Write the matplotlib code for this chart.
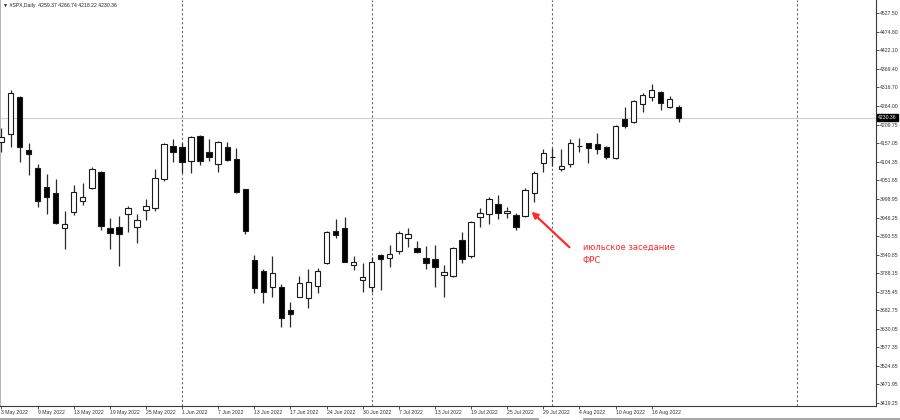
from datetime import datetime

import matplotlib

matplotlib.use("Agg")
import matplotlib.pyplot as plt
import matplotlib.transforms as mtransforms
from matplotlib.patches import Rectangle


# daily OHLC of the #SPX CFD
dates = [
    "2022-05-03", "2022-05-04", "2022-05-05", "2022-05-06", "2022-05-09",
    "2022-05-10", "2022-05-11", "2022-05-12", "2022-05-13", "2022-05-16",
    "2022-05-17", "2022-05-18", "2022-05-19", "2022-05-20", "2022-05-23",
    "2022-05-24", "2022-05-25", "2022-05-26", "2022-05-27", "2022-05-31",
    "2022-06-01", "2022-06-02", "2022-06-03", "2022-06-06", "2022-06-07",
    "2022-06-08", "2022-06-09", "2022-06-10", "2022-06-13", "2022-06-14",
    "2022-06-15", "2022-06-16", "2022-06-17", "2022-06-21", "2022-06-22",
    "2022-06-23", "2022-06-24", "2022-06-27", "2022-06-28", "2022-06-29",
    "2022-06-30", "2022-07-01", "2022-07-05", "2022-07-06", "2022-07-07",
    "2022-07-08", "2022-07-11", "2022-07-12", "2022-07-13", "2022-07-14",
    "2022-07-15", "2022-07-18", "2022-07-19", "2022-07-20", "2022-07-21",
    "2022-07-22", "2022-07-25", "2022-07-26", "2022-07-27", "2022-07-28",
    "2022-07-29", "2022-08-01", "2022-08-02", "2022-08-03", "2022-08-04",
    "2022-08-05", "2022-08-08", "2022-08-09", "2022-08-10", "2022-08-11",
    "2022-08-12", "2022-08-15", "2022-08-16", "2022-08-17", "2022-08-18",
    "2022-08-19",
]
opens = [
    4161.0, 4182.8, 4289.6, 4139.0, 4087.8, 4033.9, 4015.0, 3915.6, 3962.8, 3994.1,
    4029.3, 4076.5, 3915.6, 3920.2, 3956.3, 3920.2, 3967.6, 3972.5, 4055.7, 4149.5,
    4145.8, 4107.7, 4178.0, 4133.3, 4097.5, 4147.5, 4112.6, 4026.5, 3825.5, 3795.1,
    3749.6, 3749.6, 3683.4, 3719.5, 3716.7, 3751.6, 3816.1, 3908.8, 3917.3, 3810.5,
    3768.7, 3749.6, 3839.7, 3832.0, 3851.1, 3887.2, 3860.5, 3832.0, 3828.4, 3782.0,
    3780.9, 3882.4, 3836.9, 3946.9, 3956.3, 3984.7, 3958.2, 3953.4, 3950.6, 4015.0,
    4100.4, 4118.5, 4085.0, 4097.5, 4149.0, 4157.2, 4154.3, 4145.8, 4116.3, 4225.4,
    4218.6, 4268.9, 4287.9, 4302.1, 4259.5, 4259.37,
]
highs = [
    4200.7, 4308.7, 4292.5, 4158.9, 4097.5, 4070.0, 4055.7, 3964.8, 4038.7, 4045.2,
    4089.0, 4079.3, 3944.0, 3950.6, 3979.0, 3956.3, 3999.0, 4083.3, 4157.2, 4168.5,
    4158.9, 4178.8, 4179.5, 4169.4, 4164.6, 4160.0, 4143.0, 4028.2, 3839.7, 3800.0,
    3836.9, 3757.3, 3707.0, 3780.0, 3799.0, 3802.0, 3907.9, 3942.0, 3946.9, 3836.9,
    3816.1, 3834.9, 3842.6, 3868.2, 3908.8, 3917.3, 3880.4, 3866.2, 3868.2, 3811.3,
    3861.6, 3904.3, 3937.2, 3972.5, 4003.7, 4010.3, 3975.3, 3959.9, 4029.3, 4078.5,
    4140.1, 4143.0, 4141.0, 4168.5, 4171.4, 4158.9, 4187.3, 4149.5, 4209.2, 4259.5,
    4280.2, 4301.0, 4325.7, 4305.8, 4291.6, 4266.74,
]
lows = [
    4132.5, 4147.5, 4104.9, 4067.1, 3975.3, 3956.3, 3928.0, 3856.8, 3953.4, 3981.8,
    4026.5, 3910.8, 3856.8, 3809.3, 3905.9, 3873.0, 3939.2, 3965.6, 4050.0, 4104.9,
    4072.0, 4072.0, 4095.5, 4107.7, 4074.8, 4107.7, 4016.8, 3899.4, 3730.9, 3702.5,
    3719.5, 3635.9, 3634.2, 3719.0, 3688.3, 3730.9, 3814.0, 3887.2, 3820.0, 3797.1,
    3735.4, 3735.4, 3740.3, 3806.5, 3842.6, 3863.3, 3844.6, 3799.0, 3749.6, 3719.5,
    3776.4, 3817.8, 3832.0, 3920.2, 3927.8, 3941.0, 3944.0, 3910.8, 3948.6, 3991.2,
    4076.5, 4092.7, 4079.3, 4089.0, 4133.3, 4102.1, 4126.8, 4111.7, 4113.4, 4201.5,
    4215.7, 4247.0, 4277.4, 4251.8, 4256.7, 4218.22,
]
closes = [
    4174.2, 4301.0, 4147.5, 4126.0, 3994.1, 4003.7, 3929.8, 3927.8, 4019.6, 4005.5,
    4083.3, 3923.0, 3901.4, 3899.4, 3972.5, 3939.2, 3979.0, 4057.7, 4154.3, 4131.6,
    4104.0, 4176.0, 4106.9, 4117.4, 4160.0, 4109.7, 4019.6, 3907.9, 3745.0, 3733.7,
    3787.7, 3661.5, 3672.1, 3759.3, 3762.0, 3794.3, 3906.0, 3896.6, 3820.7, 3820.7,
    3776.4, 3820.7, 3827.5, 3842.6, 3901.4, 3898.6, 3849.1, 3817.8, 3804.8, 3792.3,
    3858.8, 3827.5, 3932.7, 3958.2, 3998.2, 3958.2, 3964.8, 3918.5, 4024.5, 4071.9,
    4128.8, 4119.5, 4092.7, 4157.2, 4150.0, 4143.0, 4140.1, 4119.1, 4207.2, 4206.4,
    4278.2, 4294.5, 4308.7, 4272.6, 4282.2, 4230.36,
]

price_ticks = [
    4527.50, 4474.80, 4422.10, 4369.40, 4316.70, 4264.00, 4209.75, 4157.05,
    4104.35, 4051.65, 3998.95, 3946.25, 3893.55, 3840.85, 3788.15, 3735.45,
    3682.75, 3630.05, 3577.35, 3524.65, 3471.95, 3419.25,
]
title_text = "▼ #SPX,Daily  4259.37 4266.74 4218.22 4230.36"
note_text = "июльское заседание\nФРС"

W, H = 900, 420
AX_RIGHT, AX_BOTTOM = 876, 406
SMALL = dict(family=["Liberation Sans", "DejaVu Sans"], size=3.7)


def draw_candles(ax, days):
    for i in range(len(days)):
        o, h, l, c = opens[i], highs[i], lows[i], closes[i]
        ax.vlines(i, l, h, color="#2a2a2a", lw=0.9, zorder=2)
        face = "white" if c >= o else "black"
        bottom = min(o, c)
        height = max(abs(c - o), 0.3)
        ax.add_patch(
            Rectangle(
                (i - 0.3, bottom), 0.6, height,
                facecolor=face, edgecolor="#1a1a1a", lw=0.8, zorder=3,
            )
        )


def main():
    days = [datetime.strptime(d, "%Y-%m-%d") for d in dates]
    n = len(days)

    fig = plt.figure(figsize=(W / 100, H / 100), dpi=100)
    ax = fig.add_axes([0, (H - AX_BOTTOM) / H, AX_RIGHT / W, AX_BOTTOM / H])

    draw_candles(ax, days)

    # month separators
    for i in range(1, n):
        if days[i].month != days[i - 1].month:
            ax.axvline(i, color="#666666", lw=0.8, ls=(0, (2, 2)), zorder=1)
    ax.axvline(88.1, color="#666666", lw=0.8, ls=(0, (2, 2)), zorder=1)

    # last price line
    ax.axhline(closes[-1], color="#cfcfcf", lw=0.8, zorder=1)

    ax.set_xlim(-0.166, 96.85)
    ax.set_ylim(3410.6, 4564.45)

    ax.spines["top"].set_visible(False)
    ax.spines["left"].set_color("#a8a8a8")
    ax.spines["left"].set_linewidth(1.2)
    ax.spines["right"].set_color("#3a3a3a")
    ax.spines["right"].set_linewidth(0.8)
    ax.spines["bottom"].set_color("#3a3a3a")
    ax.spines["bottom"].set_linewidth(0.8)

    ax.yaxis.tick_right()
    ax.set_yticks(price_ticks)
    ax.set_yticklabels([f"{v:.2f}" for v in price_ticks], **SMALL)
    ax.tick_params(axis="y", direction="out", length=2, width=0.6,
                   colors="#333333", pad=1.0)

    tick_idx = list(range(0, n, 4))
    ax.set_xticks(tick_idx)
    ax.set_xticklabels([f"{days[i].day} {days[i]:%b %Y}" for i in tick_idx],
                       **SMALL)
    ax.tick_params(axis="x", direction="out", length=2, width=0.6,
                   colors="#333333", pad=1.0)
    plt.setp(ax.get_xticklabels(), ha="left")

    # current price tag on the axis
    trans = mtransforms.blended_transform_factory(ax.transAxes, ax.transData)
    ax.text(1.0025, closes[-1], f"{closes[-1]:.2f}", transform=trans,
            color="white", va="center", ha="left",
            bbox=dict(boxstyle="square,pad=0.2", fc="black", ec="black"),
            clip_on=False, zorder=5, **SMALL)

    # annotation for the July FOMC meeting
    ax.annotate(
        "", xy=(58.7, 3962.8), xytext=(62.9, 3861.6),
        arrowprops=dict(arrowstyle="-|>", color="#ff2a2a", lw=1.6,
                        mutation_scale=9, shrinkA=0, shrinkB=0),
        zorder=6,
    )
    ax.text(64.4, 3843.0, note_text, color="#ff2a2a", fontsize=6.0,
            va="center", ha="left", linespacing=1.5, zorder=6)

    fig.text(3 / W, 1 - 6 / H, title_text, color="#222222",
             va="center", ha="left", **SMALL)

    # window strip at the very bottom
    fig.add_artist(Rectangle((0, 0), 539 / W, 2 / H, transform=fig.transFigure,
                             color="#a9a9a9", lw=0))
    fig.add_artist(Rectangle((583 / W, 0), 1 - 583 / W, 2 / H,
                             transform=fig.transFigure, color="#a9a9a9", lw=0))

    fig.savefig("out.png", dpi=100)
    plt.close(fig)


if __name__ == "__main__":
    main()
